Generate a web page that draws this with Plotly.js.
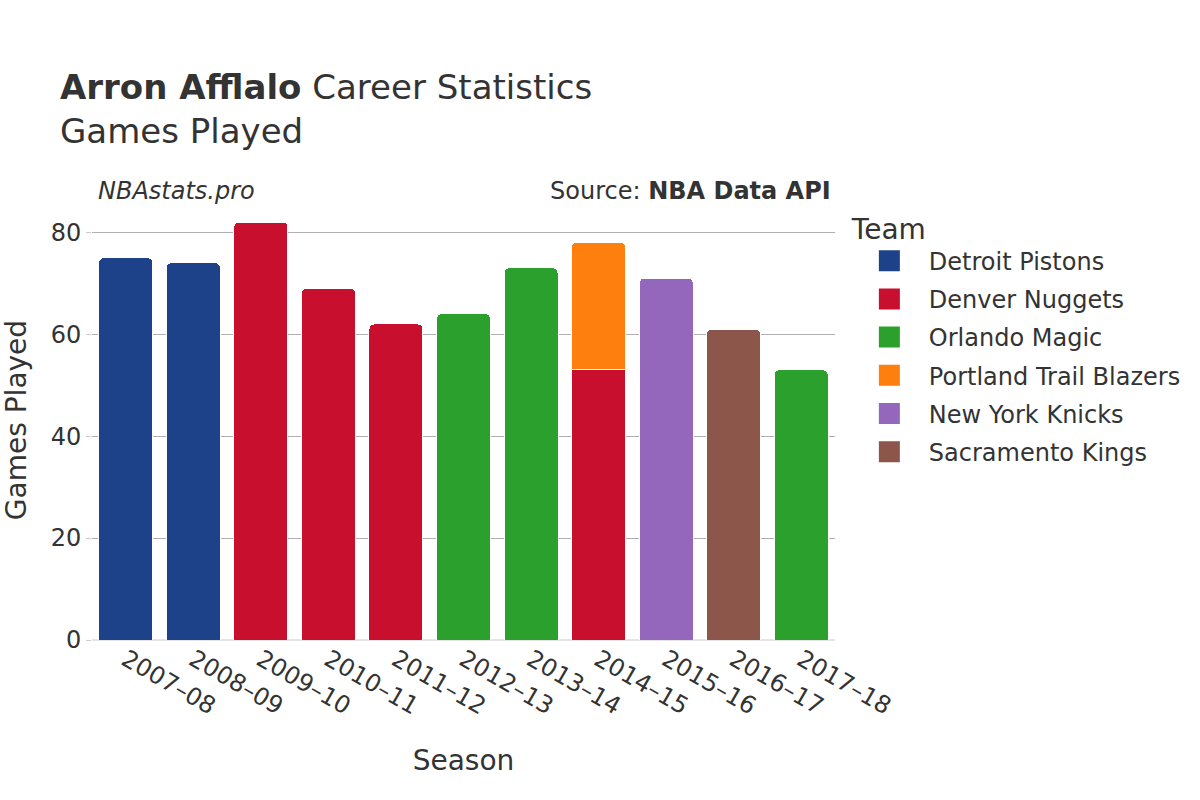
<!DOCTYPE html>
<html>
<head>
<meta charset="utf-8">
<script src="https://cdn.plot.ly/plotly-3.0.1.min.js"></script>
<style>body{margin:0;padding:0;}#chart{width:1200px;height:800px;}</style>
</head>
<body>
<div id="chart"></div>
<script>
const seasons = ["2007–08","2008–09","2009–10","2010–11","2011–12","2012–13","2013–14","2014–15","2015–16","2016–17","2017–18"];
const teams = ["Detroit Pistons","Denver Nuggets","Orlando Magic","Portland Trail Blazers","New York Knicks","Sacramento Kings"];
const teamColors = ["#1d428a","#c8102e","#2ca02c","#ff7f0e","#9467bd","#8c564b"];
const detroitGames   = [75, 74, null, null, null, null, null, null, null, null, null];
const denverGames    = [null, null, 82, 69, 62, null, null, 53, null, null, null];
const orlandoGames   = [null, null, null, null, null, 64, 73, null, null, null, 53];
const portlandGames  = [null, null, null, null, null, null, null, 25, null, null, null];
const knicksGames    = [null, null, null, null, null, null, null, null, 71, null, null];
const kingsGames     = [null, null, null, null, null, null, null, null, null, 61, null];
const seriesValues = [detroitGames, denverGames, orlandoGames, portlandGames, knicksGames, kingsGames];

const font = "DejaVu Sans, sans-serif";
const barTraces = teams.map((t, i) => ({
  type: "bar",
  name: t,
  x: seasons,
  y: seriesValues[i],
  showlegend: false,
  legendgroup: t,
  marker: {color: teamColors[i], line: {color: "#ffffff", width: 1}},
  hovertemplate: "%{x}: %{y}<extra>" + t + "</extra>"
}));
// legend-only swatches on a hidden overlay axis pair
const legendTraces = teams.map((t, i) => ({
  type: "scatter",
  mode: "markers",
  name: t,
  legendgroup: t,
  xaxis: "x2", yaxis: "y2",
  x: [0],
  y: [null],
  marker: {symbol: "square", size: 16, color: teamColors[i], line: {color: teamColors[i], width: 5}},
  hoverinfo: "skip"
}));

const layout = {
  width: 1200, height: 800,
  barmode: "stack",
  bargap: 0.2,
  barcornerradius: 5,
  paper_bgcolor: "#ffffff",
  plot_bgcolor: "#ffffff",
  font: {family: font, color: "#333333", size: 24},
  margin: {l: 92, r: 365, t: 200, b: 160},
  title: {
    text: "<b>Arron Afflalo</b> Career Statistics<br>Games Played",
    font: {family: font, size: 34, color: "#333333"},
    x: 0.05, xanchor: "left", y: 0.876, yanchor: "top"
  },
  xaxis: {
    title: {text: "Season", font: {size: 28}, standoff: 30},
    tickangle: 30,
    tickfont: {size: 24},
    showgrid: false
  },
  yaxis: {
    title: {text: "Games Played", font: {size: 28}},
    tickfont: {size: 24},
    showgrid: true,
    gridcolor: "#b0b0b0",
    zeroline: true,
    zerolinecolor: "#e5e5e5",
    zerolinewidth: 2,
    ticks: "outside",
    tickcolor: "#cccccc",
    ticklen: 5,
    dtick: 20
  },
  xaxis2: {overlaying: "x", visible: false, showgrid: false, zeroline: false},
  yaxis2: {overlaying: "y", visible: false, showgrid: false, zeroline: false},
  legend: {
    title: {text: "Team", font: {size: 28}},
    font: {size: 24},
    traceorder: "grouped",
    tracegroupgap: 4,
    itemwidth: 69,
    x: 1.02, xanchor: "left", y: 0.995, yanchor: "top"
  },
  annotations: [
    {text: "<i>NBAstats.pro</i>", xref: "paper", yref: "paper", x: 0.005, y: 0.984, xanchor: "left", yanchor: "bottom", showarrow: false, font: {size: 24, color: "#333333"}},
    {text: "Source: <b>NBA Data API</b>", xref: "paper", yref: "paper", x: 0.997, y: 0.984, xanchor: "right", yanchor: "bottom", showarrow: false, font: {size: 24, color: "#333333"}}
  ]
};

Plotly.newPlot("chart", barTraces.concat(legendTraces), layout, {displayModeBar: false});
</script>
</body>
</html>
